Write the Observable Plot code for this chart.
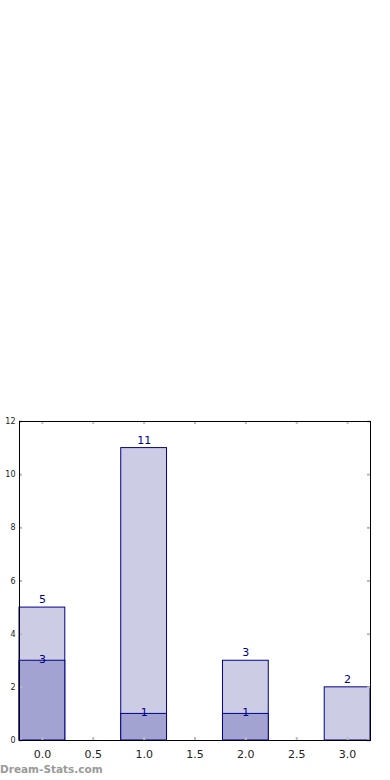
<!DOCTYPE html>
<html>
<head>
<meta charset="utf-8">
<script src="https://cdn.jsdelivr.net/npm/d3@7"></script>
<script src="https://cdn.jsdelivr.net/npm/@observablehq/plot@0.6"></script>
<style>
  html, body { margin: 0; padding: 0; background: #fff; }
  #wrap { position: relative; width: 390px; height: 780px; }
  #wm { position: absolute; left: 0px; top: 763px; font-family: "DejaVu Sans", sans-serif; font-weight: bold; font-size: 10.5px; color: #9a9a9a; }
</style>
</head>
<body>
<div id="wrap">
  <div id="chart"></div>
  <div id="wm">Dream-Stats.com</div>
</div>
<script>
const categories = [0, 1, 2, 3];
const totals = [5, 11, 3, 2];
const subset = [3, 1, 1, 0];
const xTicks = [0.0, 0.5, 1.0, 1.5, 2.0, 2.5, 3.0];
const yTicks = [0, 2, 4, 6, 8, 10, 12];

const halfW = 0.225;
const totalData = categories.map((c, i) => ({x: c, v: totals[i]}));
const subData = categories.map((c, i) => ({x: c, v: subset[i]})).filter(d => d.v > 0);

const navy = "#00008B";
const tickColor = "#bbbbbb";

const chart = Plot.plot({
  width: 390,
  height: 780,
  marginTop: 421,
  marginBottom: 40,
  marginLeft: 19,
  marginRight: 20,
  style: {fontFamily: "DejaVu Sans, sans-serif", background: "#fff"},
  x: {domain: [-halfW, 3 + halfW], axis: null, label: null},
  y: {domain: [0, 12], axis: null, label: null},
  marks: [
    Plot.rectY(totalData, {x1: d => d.x - halfW, x2: d => d.x + halfW, y1: 0, y2: "v", fill: "#ccccE5", stroke: navy, strokeWidth: 1}),
    Plot.rectY(subData, {x1: d => d.x - halfW, x2: d => d.x + halfW, y1: 0, y2: "v", fill: "#a3a3d1", stroke: navy, strokeWidth: 1}),
    Plot.text(totalData, {x: "x", y: "v", text: d => String(d.v), dy: -8, fill: navy, fontSize: 11}),
    Plot.text(subData, {x: "x", y: "v", text: d => String(d.v), dy: -1, fill: navy, fontSize: 11}),
    // inward ticks
    Plot.ruleX(xTicks, {x: d => d, y1: 0, y2: 0.11, stroke: tickColor, strokeWidth: 2}),
    Plot.ruleX(xTicks, {x: d => d, y1: 12, y2: 11.89, stroke: tickColor, strokeWidth: 2}),
    Plot.ruleY(yTicks, {y: d => d, x1: -halfW, x2: -halfW + 0.03, stroke: tickColor, strokeWidth: 2}),
    Plot.ruleY(yTicks, {y: d => d, x1: 3 + halfW, x2: 3 + halfW - 0.03, stroke: tickColor, strokeWidth: 2}),
    Plot.frame({stroke: "black", strokeWidth: 1}),
    Plot.axisY(yTicks, {anchor: "left", label: null, tickSize: 0, tickPadding: 4, fontSize: 8, color: "#222", tickFormat: d => String(d)}),
    Plot.axisX(xTicks, {anchor: "bottom", label: null, tickSize: 0, tickPadding: 10, fontSize: 11, color: "#222", tickFormat: d3.format(".1f")})
  ]
});
document.getElementById("chart").appendChild(chart);
</script>
</body>
</html>
